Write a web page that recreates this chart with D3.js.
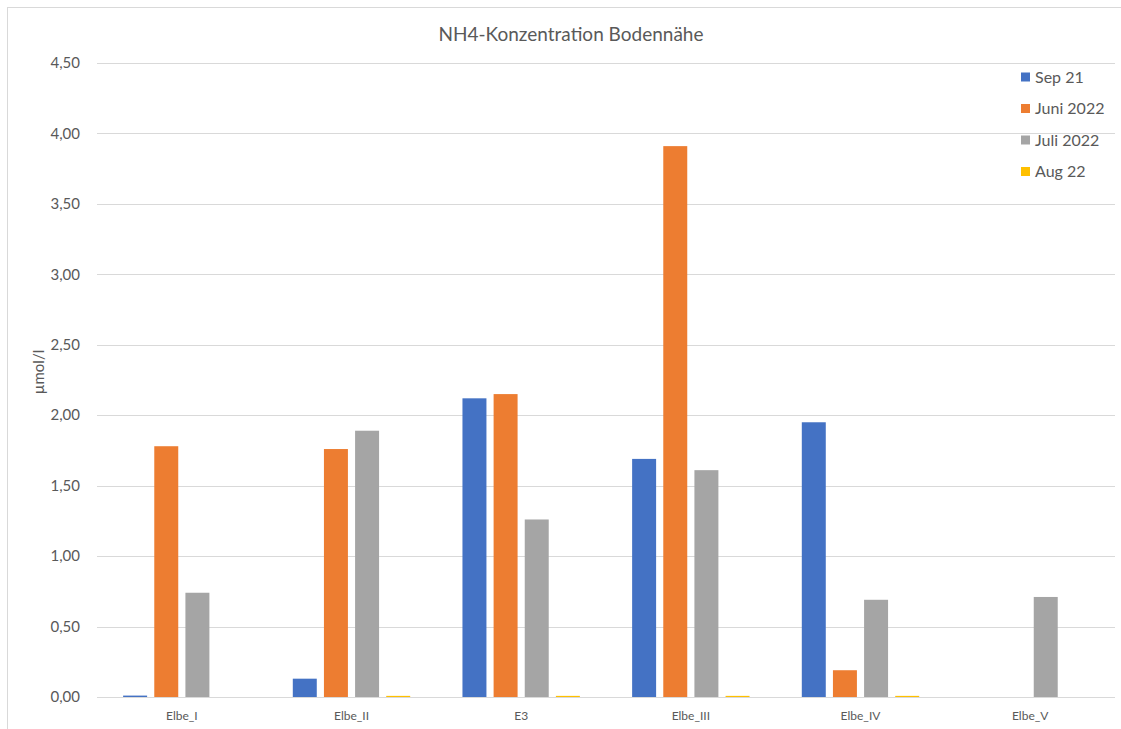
<!DOCTYPE html>
<html>
<head>
<meta charset="utf-8">
<script src="https://cdn.jsdelivr.net/npm/d3@7"></script>
<style>
  html, body { margin: 0; padding: 0; background: #fff; }
  svg { display: block; font-family: Lato, "Open Sans", sans-serif; }
</style>
</head>
<body>
<svg id="chart" width="1121" height="729"></svg>
<script>
const categories = ["Elbe_I", "Elbe_II", "E3", "Elbe_III", "Elbe_IV", "Elbe_V"];
const seriesNames = ["Sep 21", "Juni 2022", "Juli 2022", "Aug 22"];
const sep21   = [0.01, 0.13, 2.12, 1.69, 1.95, 0];
const juni22  = [1.78, 1.76, 2.15, 3.91, 0.19, 0];
const juli22  = [0.74, 1.89, 1.26, 1.61, 0.69, 0.71];
const aug22   = [0,    0.008, 0.008, 0.008, 0.008, 0];
const yTicks  = [0, 0.5, 1, 1.5, 2, 2.5, 3, 3.5, 4, 4.5];
const colors  = ["#4472C4", "#ED7D31", "#A5A5A5", "#FFC000"];

const seriesValues = [sep21, juni22, juli22, aug22];
const svg = d3.select("#chart");

// chart border
svg.append("rect").attr("x", 7.5).attr("y", 7.5).attr("width", 1130).attr("height", 740)
  .attr("fill", "none").attr("stroke", "#d9d9d9").attr("stroke-width", 1);

const plotL = 97, plotR = 1115, plotT = 63, plotB = 697;
const y = d3.scaleLinear().domain([0, 4.5]).range([plotB, plotT]);
const x0 = d3.scaleBand().domain(categories).range([plotL, plotR]).padding(0);
const x1 = d3.scaleBand().domain(seriesNames)
  .range([x0.bandwidth() * 0.154, x0.bandwidth() * 0.846]).paddingInner(0.23).paddingOuter(0);

// gridlines
svg.append("g").selectAll("line").data(yTicks).join("line")
  .attr("x1", plotL).attr("x2", plotR)
  .attr("y1", d => Math.round(y(d)) + 0.5).attr("y2", d => Math.round(y(d)) + 0.5)
  .attr("stroke", "#d9d9d9").attr("stroke-width", 1);

// y tick labels
const fmt = d => d.toFixed(2).replace(".", ",");
svg.append("g").selectAll("text").data(yTicks).join("text")
  .attr("x", 80).attr("y", d => y(d)).attr("dy", "0.35em")
  .attr("text-anchor", "end").attr("font-size", 15).attr("fill", "#595959")
  .text(fmt);

// bars
const groups = svg.append("g").selectAll("g").data(categories).join("g")
  .attr("transform", c => `translate(${x0(c)},0)`);
groups.selectAll("rect").data((c, i) => seriesNames.map((s, k) => ({ s, k, v: seriesValues[k][i] })))
  .join("rect")
  .attr("x", d => x1(d.s)).attr("width", x1.bandwidth())
  .attr("y", d => y(d.v)).attr("height", d => Math.max(0, y(0) - y(d.v)))
  .attr("fill", d => colors[d.k]);

// category labels
svg.append("g").selectAll("text").data(categories).join("text")
  .attr("x", c => x0(c) + x0.bandwidth() / 2).attr("y", 720)
  .attr("text-anchor", "middle").attr("font-size", 12).attr("fill", "#595959")
  .text(c => c);

// title
svg.append("text").attr("x", 571).attr("y", 41).attr("text-anchor", "middle")
  .attr("font-size", 19).attr("fill", "#595959").text("NH4-Konzentration Bodennähe");

// y axis title
svg.append("text").attr("transform", "translate(44,372) rotate(-90)")
  .attr("text-anchor", "middle").attr("font-size", 15).attr("fill", "#595959").text("µmol/l");

// legend
const leg = svg.append("g").selectAll("g").data(seriesNames).join("g")
  .attr("transform", (d, i) => `translate(1021,${77 + i * 31.5})`);
leg.append("rect").attr("x", 0).attr("y", -4.5).attr("width", 9).attr("height", 9)
  .attr("fill", (d, i) => colors[i]);
leg.append("text").attr("x", 14).attr("y", 0).attr("dy", "0.35em")
  .attr("font-size", 16).attr("fill", "#595959").text(d => d);
</script>
</body>
</html>
